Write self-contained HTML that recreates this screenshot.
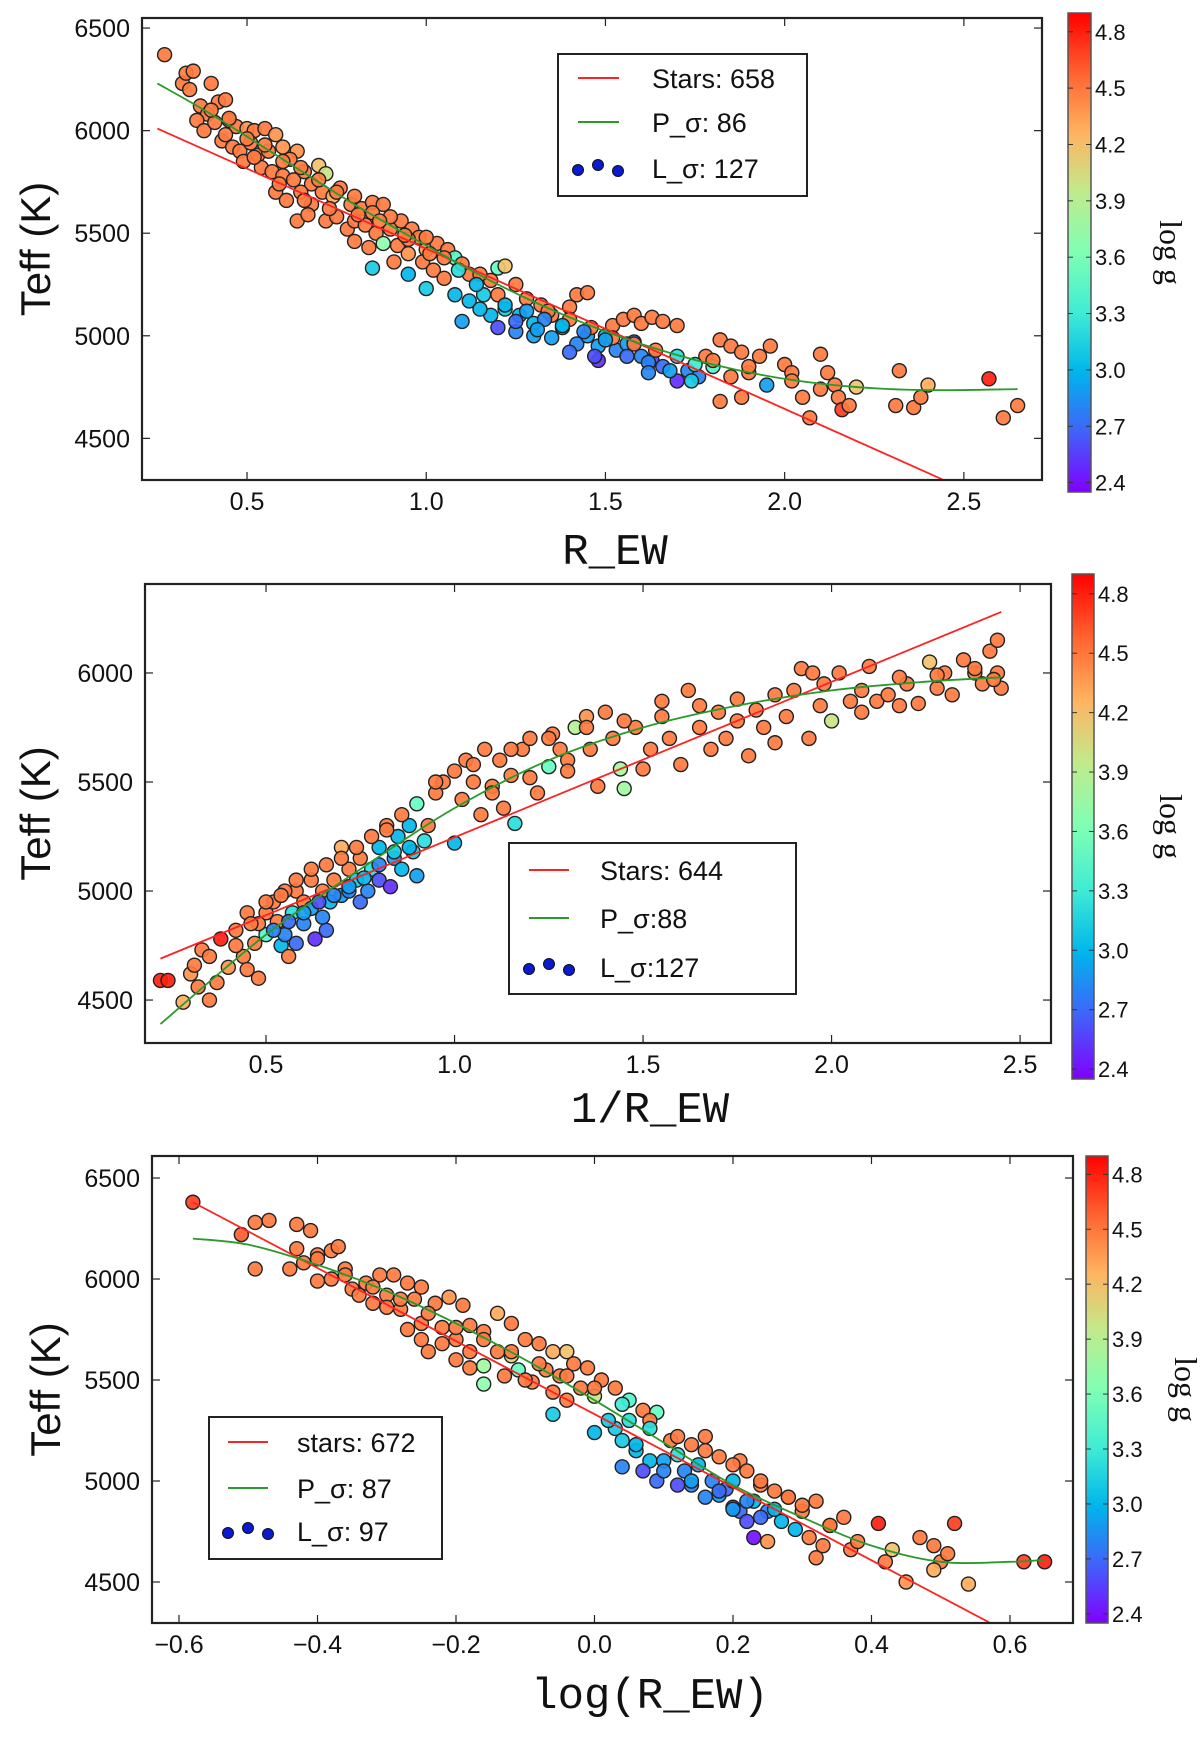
<!DOCTYPE html>
<html><head><meta charset="utf-8"><style>
html,body{margin:0;padding:0;background:#fff;}
svg{display:block;}
text{font-family:"Liberation Sans","DejaVu Sans",sans-serif;fill:#111;}
</style></head><body>
<svg id="fig" width="1200" height="1740" viewBox="0 0 1200 1740" xmlns="http://www.w3.org/2000/svg">
<defs>
<linearGradient id="cbgrad" x1="0" y1="1" x2="0" y2="0">
<stop offset="0" stop-color="#8000ff"/><stop offset="0.125" stop-color="#4062fa"/><stop offset="0.25" stop-color="#00b5eb"/><stop offset="0.375" stop-color="#40ecd4"/><stop offset="0.5" stop-color="#80ffb4"/><stop offset="0.625" stop-color="#c0eb8d"/><stop offset="0.75" stop-color="#ffb360"/><stop offset="0.875" stop-color="#ff6230"/><stop offset="1" stop-color="#ff0000"/>
</linearGradient>
</defs>
</svg>
<script>
// ---------- Panel 1 data (R_EW) ----------
const p1X=[0.27,0.32,0.33,0.35,0.34,0.40,0.37,0.39,0.42,0.44,0.36,0.38,0.41,0.45,0.47,0.50,0.52,0.55,0.58,0.43,0.46,0.48,0.51,0.53,0.56,0.60,0.64,0.62,0.49,0.54,0.57,0.60,0.63,0.66,0.70,0.72,0.68,0.58,0.61,0.65,0.68,0.71,0.74,0.76,0.79,0.82,0.85,0.88,0.64,0.67,0.72,0.75,0.78,0.80,0.83,0.86,0.90,0.93,0.96,0.98,0.80,0.84,0.88,0.92,0.95,1.00,1.03,1.06,0.91,0.99,0.85,0.95,1.08,1.02,1.05,1.12,1.20,1.22,1.18,1.25,1.00,1.08,1.12,1.16,1.10,1.18,1.22,1.26,1.20,1.25,1.30,1.32,1.35,1.40,1.42,1.45,1.30,1.35,1.38,1.42,1.45,1.48,1.50,1.52,1.55,1.58,1.60,1.63,1.66,1.70,1.53,1.56,1.60,1.63,1.66,1.70,1.73,1.76,1.70,1.78,1.82,1.85,1.88,1.80,1.85,1.90,1.93,1.96,1.82,1.88,1.95,2.00,2.02,2.05,2.07,2.10,2.12,2.14,2.15,2.16,2.18,2.20,2.31,2.32,2.36,2.38,2.40,2.57,2.61,2.65,1.58,1.48,1.25,1.40,
 0.40,0.45,0.50,0.55,0.60,0.65,0.70,0.75,0.80,0.85,0.90,0.95,1.00,1.05,1.10,1.15,
 0.44,0.52,0.59,0.66,0.73,0.81,0.87,0.94,1.01,1.09,1.14,1.20,1.28,1.34,1.40,1.46,1.52,1.58,1.64,
 1.22,1.28,1.33,1.38,1.44,1.50,1.56,1.62,1.68,1.74,1.15,1.31,1.47,1.62,1.75,1.80,1.90,2.02,2.10];
const p1T=[6370,6230,6280,6290,6200,6230,6120,6080,6140,6150,6050,6000,6040,6050,6020,6010,6000,6010,5980,5950,5920,5900,5940,5880,5900,5920,5900,5860,5850,5820,5800,5780,5760,5800,5830,5790,5740,5700,5660,5700,5640,5700,5680,5720,5640,5620,5650,5640,5560,5590,5560,5580,5520,5560,5540,5500,5520,5560,5520,5480,5460,5430,5450,5440,5400,5420,5450,5420,5360,5360,5330,5300,5380,5320,5280,5300,5330,5340,5270,5250,5230,5200,5170,5200,5070,5100,5130,5100,5040,5020,5060,5150,5100,5140,5200,5210,5000,4990,5040,4960,5000,4950,5000,5050,5080,5100,5060,5090,5070,5050,4930,4960,4900,4880,4850,4900,4830,4800,4780,4900,4980,4950,4920,4850,4800,4820,4900,4950,4680,4700,4760,4860,4820,4700,4600,4910,4820,4760,4700,4640,4660,4750,4660,4830,4650,4700,4760,4790,4600,4660,4970,4880,5070,4920,
 6100,6060,5960,5930,5850,5820,5760,5700,5680,5600,5580,5470,5480,5380,5350,5300,
 5980,5870,5740,5660,5620,5590,5560,5490,5400,5320,5250,5200,5180,5120,5080,5040,4990,4960,4930,
 5150,5120,5080,5050,5020,4980,4900,4870,4830,4780,5130,5030,4900,4820,4860,4880,4850,4780,4740];
const p1G=[4.5,4.5,4.5,4.5,4.5,4.5,4.5,4.5,4.5,4.5,4.5,4.5,4.5,4.5,4.5,4.4,4.5,4.5,4.4,4.5,4.5,4.5,4.5,4.5,4.5,4.4,4.4,4.5,4.5,4.5,4.5,4.5,4.5,4.5,4.2,4.0,4.5,4.5,4.5,4.5,4.5,4.5,4.3,4.5,4.5,4.5,4.5,4.5,4.5,4.5,4.5,4.5,4.5,4.5,4.5,4.5,4.5,4.5,4.5,4.5,4.5,4.5,3.7,4.5,4.4,4.4,4.5,4.5,4.5,4.5,3.1,3.0,3.4,4.5,4.5,4.5,3.5,4.2,4.5,4.5,3.1,3.0,3.0,3.1,2.9,3.0,3.1,3.0,2.6,2.8,3.0,4.5,4.5,4.5,4.5,4.5,2.9,2.9,3.0,2.8,2.9,2.9,3.0,4.5,4.5,4.5,4.5,4.5,4.5,4.5,2.8,2.9,2.8,2.6,2.7,3.2,2.8,2.8,2.5,4.5,4.5,4.5,4.5,3.4,4.5,4.5,4.5,4.5,4.5,4.5,2.9,4.5,4.5,4.5,4.5,4.5,4.5,4.5,4.5,4.7,4.5,4.2,4.5,4.5,4.5,4.5,4.3,4.8,4.5,4.5,2.8,2.5,2.7,2.7,
 4.5,4.5,4.5,4.5,4.5,4.5,4.5,4.5,4.5,4.5,4.5,4.5,4.5,4.5,4.5,4.5,
 4.5,4.5,4.5,4.5,4.5,4.5,4.5,4.5,4.5,3.2,3.0,4.5,4.5,4.5,4.5,4.5,4.5,4.5,4.5,
 3.0,2.9,2.8,3.0,2.8,2.9,2.7,2.8,2.9,3.1,3.0,2.9,2.6,2.8,3.3,4.5,4.5,4.5,4.5];
const p1LinX=[0.25,2.44];
const p1LinY=[6010,4300];
const p1PolX=[0.25,0.4,0.6,0.8,1.0,1.2,1.4,1.6,1.8,2.0,2.2,2.4,2.65];
const p1PolY=[6230,6080,5860,5640,5440,5250,5090,4960,4860,4790,4750,4735,4740];
const p1XTicks=[0.5,1.0,1.5,2.0,2.5];
const p1XTickLabels=["0.5","1.0","1.5","2.0","2.5"];
const p1YTicks=[4500,5000,5500,6000,6500];
const p1YTickLabels=["4500","5000","5500","6000","6500"];
const p1Legend=["Stars: 658","P_σ: 86","L_σ: 127"];

// ---------- Panel 2 data (1/R_EW) ----------
const p2X=[0.22,0.24,0.28,0.30,0.31,0.32,0.33,0.35,0.35,0.37,0.38,0.40,0.42,0.44,0.45,0.47,0.48,0.50,0.50,0.52,0.53,0.54,0.55,0.56,0.57,0.58,0.58,0.60,0.60,0.62,0.62,0.63,0.65,0.65,0.66,0.67,0.68,0.70,0.70,0.72,0.72,0.74,0.75,0.75,0.77,0.78,0.80,0.80,0.82,0.83,0.84,0.85,0.86,0.88,0.89,0.90,0.92,0.90,0.93,0.95,0.97,1.00,1.00,1.02,1.03,1.05,1.07,1.08,1.10,1.12,1.13,1.15,1.16,1.18,1.20,1.22,1.25,1.26,1.28,1.30,1.32,1.35,1.36,1.38,1.40,1.42,1.44,1.45,1.48,1.50,1.52,1.55,1.57,1.60,1.62,1.65,1.68,1.70,1.72,1.75,1.78,1.80,1.82,1.85,1.88,1.90,1.92,1.94,1.95,1.97,2.00,2.02,2.05,2.08,2.10,2.12,2.15,2.18,2.20,2.23,2.26,2.28,2.30,2.32,2.35,2.38,2.40,2.42,2.44,2.44,2.45,2.43,0.45,0.55,0.48,
 0.42,0.46,0.50,0.54,0.58,0.62,0.66,0.70,0.74,0.78,0.82,0.86,
 0.52,0.56,0.60,0.64,0.68,0.72,0.76,0.80,0.84,0.88,
 0.95,1.05,1.15,1.25,1.35,1.45,1.55,1.65,1.75,1.85,1.98,2.08,2.18,2.28,2.38,1.10,1.20,1.30];
const p2T=[4590,4590,4490,4620,4660,4560,4730,4700,4500,4580,4780,4650,4820,4700,4640,4760,4600,4900,4800,4950,4860,4750,4800,4700,4900,5000,4760,4950,4850,4920,5050,4780,5000,4880,4820,4950,5050,4980,5200,5000,5100,5050,4950,5150,5000,5100,5050,5200,5300,5020,5150,5250,5100,5300,5180,5070,5230,5400,5300,5450,5500,5550,5220,5420,5600,5500,5350,5650,5480,5600,5380,5530,5310,5650,5700,5450,5570,5720,5650,5600,5750,5800,5650,5480,5820,5700,5560,5470,5750,5560,5650,5870,5700,5580,5920,5750,5650,5820,5700,5780,5620,5830,5750,5680,5800,5920,6020,5700,6000,5850,5780,6000,5870,5820,6030,5870,5900,5850,5950,5860,6050,5930,6000,5900,6060,6000,5950,6100,6150,6000,5930,5970,4900,5000,4850,
 4750,4850,4950,4980,5050,5100,5120,5150,5200,5250,5280,5350,
 4820,4860,4900,4950,4980,5020,5060,5120,5180,5200,
 5500,5580,5650,5700,5750,5780,5800,5850,5880,5900,5950,5920,5980,5990,6020,5450,5520,5550];
const p2G=[4.8,4.8,4.3,4.4,4.5,4.5,4.5,4.5,4.5,4.5,4.8,4.4,4.5,4.5,4.5,4.5,4.5,4.5,3.4,4.5,4.5,3.0,2.8,4.5,3.2,4.5,2.7,4.5,2.8,2.9,4.5,2.5,4.5,2.8,2.7,3.0,4.5,2.9,4.3,2.8,4.5,3.1,2.7,4.5,2.8,3.2,2.6,3.0,4.5,2.5,2.9,3.0,3.0,3.0,3.1,2.9,3.2,3.5,4.5,4.5,4.5,4.5,3.0,4.5,4.5,4.5,4.5,4.5,4.5,4.5,4.5,4.5,3.2,4.5,4.5,4.5,3.5,4.5,4.5,4.5,3.9,4.4,4.5,4.5,4.5,4.5,3.8,3.8,4.5,4.5,4.5,4.5,4.5,4.5,4.5,4.5,4.5,4.5,4.5,4.5,4.5,4.5,4.5,4.5,4.5,4.5,4.5,4.5,4.5,4.5,4.0,4.5,4.5,4.5,4.5,4.5,4.5,4.5,4.5,4.5,4.2,4.5,4.5,4.5,4.5,4.5,4.5,4.5,4.5,4.5,4.5,4.5,4.5,4.5,4.5,
 4.5,4.5,4.5,4.5,4.5,4.5,4.5,4.5,4.5,4.5,4.5,4.5,
 2.8,2.7,2.9,2.6,2.8,2.9,3.0,2.8,3.1,3.0,
 4.5,4.5,4.5,4.5,4.5,4.5,4.5,4.5,4.5,4.5,4.5,4.5,4.5,4.5,4.5,4.5,4.5,4.5];
const p2LinX=[0.22,2.45];
const p2LinY=[4690,6280];
const p2PolX=[0.22,0.5,0.75,1.0,1.25,1.5,1.75,2.0,2.25,2.45];
const p2PolY=[4390,4800,5100,5380,5600,5750,5850,5920,5960,5980];
const p2XTicks=[0.5,1.0,1.5,2.0,2.5];
const p2XTickLabels=["0.5","1.0","1.5","2.0","2.5"];
const p2YTicks=[4500,5000,5500,6000];
const p2YTickLabels=["4500","5000","5500","6000"];
const p2Legend=["Stars: 644","P_σ:88","L_σ:127"];

// ---------- Panel 3 data (log R_EW) ----------
const p3X=[-0.58,-0.51,-0.49,-0.47,-0.49,-0.43,-0.41,-0.43,-0.42,-0.44,-0.40,-0.38,-0.37,-0.40,-0.38,-0.36,-0.35,-0.33,-0.31,-0.29,-0.30,-0.27,-0.25,-0.32,-0.28,-0.26,-0.25,-0.23,-0.21,-0.19,-0.27,-0.25,-0.24,-0.22,-0.20,-0.18,-0.16,-0.14,-0.12,-0.20,-0.18,-0.16,-0.16,-0.14,-0.12,-0.10,-0.08,-0.06,-0.04,-0.13,-0.11,-0.09,-0.07,-0.05,-0.03,-0.01,-0.06,-0.04,-0.02,0.00,0.01,0.03,0.05,0.00,0.03,0.05,0.07,0.09,0.04,0.06,0.08,0.04,0.07,0.09,0.10,0.11,0.12,0.13,0.14,0.15,0.16,0.17,0.18,0.19,0.20,0.21,0.22,0.21,0.22,0.23,0.24,0.25,0.25,0.26,0.27,0.28,0.29,0.30,0.31,0.32,0.32,0.33,0.34,0.36,0.37,0.38,0.41,0.42,0.43,0.45,0.47,0.49,0.50,0.51,0.52,0.54,0.49,0.62,0.65,0.20,0.23,0.14,0.18,
 -0.40,-0.36,-0.32,-0.28,-0.24,-0.20,-0.16,-0.12,-0.08,-0.04,0.00,0.04,0.08,0.12,0.16,0.20,0.24,0.28,
 -0.34,-0.30,-0.22,-0.18,-0.10,-0.06,0.02,0.06,0.10,0.14,0.18,0.22,0.26,
 0.12,0.16,0.20,0.24,0.08,0.30,0.34];
const p3T=[6380,6220,6280,6290,6050,6270,6240,6150,6080,6050,6120,6140,6160,5990,6000,6050,5950,5980,6020,6020,5920,5980,5960,5880,5850,5900,5780,5880,5910,5870,5750,5700,5640,5760,5700,5770,5740,5830,5780,5600,5560,5570,5480,5640,5620,5700,5680,5640,5640,5520,5550,5490,5550,5520,5580,5560,5330,5400,5460,5420,5500,5460,5400,5240,5260,5300,5350,5340,5200,5150,5100,5070,5050,5000,5100,5200,5130,5050,4980,5080,5220,5000,4930,4960,5000,5100,5050,4850,4800,4900,4980,4850,4700,4950,4800,4920,4760,4850,4720,4900,4620,4680,4780,4820,4660,4700,4790,4600,4660,4500,4720,4680,4600,4640,4790,4490,4560,4600,4600,4870,4720,5180,5120,
 6100,6020,5960,5900,5830,5760,5700,5640,5580,5520,5460,5380,5300,5220,5150,5080,5000,4920,
 5920,5860,5680,5640,5500,5440,5300,5180,5050,5000,4950,4900,4860,
 4980,4920,4860,4820,5260,4880,4780];
const p3G=[4.7,4.6,4.5,4.5,4.5,4.5,4.5,4.5,4.5,4.5,4.5,4.5,4.5,4.5,4.5,4.5,4.5,4.5,4.5,4.5,4.5,4.5,4.5,4.5,4.5,4.5,4.5,4.5,4.4,4.5,4.5,4.5,4.5,4.5,4.5,4.5,4.5,4.3,4.5,4.5,4.5,3.8,3.7,4.5,4.1,4.5,4.5,4.3,4.2,4.5,3.5,4.5,4.5,4.5,4.5,4.5,3.1,4.5,4.5,4.0,4.5,4.5,3.4,3.0,3.1,3.2,4.5,3.5,3.1,3.0,3.0,2.8,2.6,2.7,2.9,4.5,3.2,2.8,2.8,3.0,4.5,2.8,2.9,2.7,3.0,4.5,4.5,2.7,2.6,3.0,4.5,2.8,4.4,4.5,3.0,4.5,3.0,4.5,4.5,4.5,4.5,4.5,4.5,4.5,4.5,4.5,4.8,4.5,4.2,4.4,4.5,4.5,4.5,4.5,4.7,4.3,4.3,4.7,4.8,2.5,2.4,4.5,4.5,
 4.5,4.5,4.5,4.5,4.5,4.5,4.5,4.5,4.5,4.5,4.5,3.3,4.5,4.5,4.5,4.5,4.5,4.5,
 4.5,4.5,4.5,4.5,4.5,4.5,3.1,3.0,2.8,2.9,2.7,2.8,3.0,
 2.6,2.8,2.9,2.7,3.2,4.5,4.5];
const p3LinX=[-0.58,0.57];
const p3LinY=[6380,4300];
const p3PolX=[-0.58,-0.5,-0.4,-0.3,-0.2,-0.1,0.0,0.1,0.2,0.3,0.4,0.5,0.6,0.65];
const p3PolY=[6200,6170,6070,5940,5780,5600,5400,5190,4980,4820,4680,4600,4600,4610];
const p3XTicks=[-0.6,-0.4,-0.2,0.0,0.2,0.4,0.6];
const p3XTickLabels=["\u22120.6","\u22120.4","\u22120.2","0.0","0.2","0.4","0.6"];
const p3YTicks=[4500,5000,5500,6000,6500];
const p3YTickLabels=["4500","5000","5500","6000","6500"];
const p3Legend=["stars: 672","P_σ: 87","L_σ: 97"];

const cbTicks=[2.4,2.7,3.0,3.3,3.6,3.9,4.2,4.5,4.8];
const cbTickLabels=["2.4","2.7","3.0","3.3","3.6","3.9","4.2","4.5","4.8"];
const CMIN=2.35, CMAX=4.9;

const NS="http://www.w3.org/2000/svg";
const svg=document.getElementById('fig');
function mk(tag,attrs,parent){const e=document.createElementNS(NS,tag);for(const k in attrs)e.setAttribute(k,attrs[k]);(parent||svg).appendChild(e);return e;}
function rainbow(v){let x=(v-CMIN)/(CMAX-CMIN);x=Math.max(0,Math.min(1,x));
 const r=Math.min(1,Math.abs(2*x-0.5)),g=Math.sin(Math.PI*x),b=Math.cos(Math.PI*x/2);
 return `rgb(${Math.round(r*255)},${Math.round(g*255)},${Math.round(b*255)})`;}

function panel(P){
 const g=mk('g',{});
 
 
 const sx=v=>P.x0+(v-P.xmin)/(P.xmax-P.xmin)*(P.x1-P.x0);
 const sy=v=>P.y1-(v-P.ymin)/(P.ymax-P.ymin)*(P.y1-P.y0);
 const clip='clip-'+P.name;
 const cp=mk('clipPath',{id:clip},g);mk('rect',{x:P.x0,y:P.y0,width:P.x1-P.x0,height:P.y1-P.y0},cp);
 const pts=mk('g',{'clip-path':`url(#${clip})`},g);
 
 
 for(let i=0;i<P.X.length;i++){
  const c=mk('circle',{cx:sx(P.X[i]),cy:sy(P.T[i]),r:7,fill:rainbow(P.G[i]),stroke:'#222','stroke-width':1.4,'fill-opacity':0.92},pts);
  
  
 }
 const lin=mk('polyline',{points:P.linX.map((v,i)=>sx(v)+','+sy(P.linY[i])).join(' '),fill:'none',stroke:'#f22','stroke-width':1.8,'clip-path':`url(#${clip})`},g);
 
 
 const pp=P.polX.map((v,i)=>[sx(v),sy(P.polY[i])]);
 let d='M'+pp[0][0]+','+pp[0][1];
 for(let i=0;i<pp.length-1;i++){const p0=pp[Math.max(0,i-1)],p1=pp[i],p2=pp[i+1],p3=pp[Math.min(pp.length-1,i+2)];
  d+=` C${p1[0]+(p2[0]-p0[0])/6},${p1[1]+(p2[1]-p0[1])/6} ${p2[0]-(p3[0]-p1[0])/6},${p2[1]-(p3[1]-p1[1])/6} ${p2[0]},${p2[1]}`;}
 const pl=mk('path',{d:d,fill:'none',stroke:'#2a9a2a','stroke-width':1.8},g);
 
 
 const frame=mk('rect',{x:P.x0,y:P.y0,width:P.x1-P.x0,height:P.y1-P.y0,fill:'none',stroke:'#222','stroke-width':2.2},g);
 
 
 P.xt.forEach((v,i)=>{const x=sx(v);
  mk('line',{x1:x,y1:P.y1,x2:x,y2:P.y1-8,stroke:'#222','stroke-width':1.2},g);
  mk('line',{x1:x,y1:P.y0,x2:x,y2:P.y0+8,stroke:'#222','stroke-width':1.2},g);
  const t=mk('text',{x:x,y:P.y1+30,'text-anchor':'middle','font-size':25},g);t.textContent=P.xtl[i];
  
  });
 P.yt.forEach((v,i)=>{const y=sy(v);
  mk('line',{x1:P.x0,y1:y,x2:P.x0+8,y2:y,stroke:'#222','stroke-width':1.2},g);
  mk('line',{x1:P.x1,y1:y,x2:P.x1-8,y2:y,stroke:'#222','stroke-width':1.2},g);
  const t=mk('text',{x:P.x0-12,y:y+9,'text-anchor':'end','font-size':25},g);t.textContent=P.ytl[i];
  
  });
 const yl=mk('text',{x:0,y:0,transform:`translate(${P.ylx},${(P.y0+P.y1)/2}) rotate(-90)`,'text-anchor':'middle','font-size':42},g);yl.textContent='Teff (K)';
 
 
 const xl=mk('text',{x:P.xlx,y:P.xly,'text-anchor':'middle','font-size':44,style:'font-family:"Liberation Mono","DejaVu Sans Mono",monospace'},g);xl.textContent=P.xlabel;
 
 
 const L=P.leg;
 const lg=mk('g',{},g);
 
 
 mk('rect',{x:L.x,y:L.y,width:L.w,height:L.h,fill:'#fff',stroke:'#222','stroke-width':2},lg);
 const cols=['#f22','#2a9a2a'];
 P.legText.forEach((s,i)=>{const ry=L.rows[i];
  if(i<2){const ln=mk('line',{x1:L.lx0,y1:ry,x2:L.lx1,y2:ry,stroke:cols[i],'stroke-width':2},lg);
   
   }
  else{[[0,2],[20,-3],[40,3]].forEach(o=>{mk('circle',{cx:L.lx0+o[0],cy:ry+o[1],r:5.5,fill:'#0a1ad0',stroke:'#111','stroke-width':1},lg);});}
  const t=mk('text',{x:L.tx,y:ry+10,'font-size':27},lg);t.textContent=s;
  
  });
 const C=P.cb;
 const cg=mk('g',{},g);
 
 
 mk('rect',{x:C.x,y:C.y0,width:C.w,height:C.y1-C.y0,fill:'url(#cbgrad)',stroke:'#555','stroke-width':1.5},cg);
 const cy=v=>C.y1-(v-CMIN)/(CMAX-CMIN)*(C.y1-C.y0);
 cbTicks.forEach((v,i)=>{const y=cy(v);
  mk('line',{x1:C.x,y1:y,x2:C.x+5,y2:y,stroke:'#333','stroke-width':1},cg);
  mk('line',{x1:C.x+C.w,y1:y,x2:C.x+C.w-5,y2:y,stroke:'#333','stroke-width':1},cg);
  const t=mk('text',{x:C.x+C.w+4,y:y+8,'font-size':22},cg);t.textContent=cbTickLabels[i];
  
  });
 const cl=mk('text',{x:0,y:0,transform:`translate(${C.lx},${(C.y0+C.y1)/2}) rotate(90)`,'text-anchor':'middle','font-size':32,style:'font-family:"Liberation Serif","DejaVu Serif",serif'},cg);cl.textContent='log g';
 
 
}

panel({name:'panel-rew',X:p1X,T:p1T,G:p1G,linX:p1LinX,linY:p1LinY,polX:p1PolX,polY:p1PolY,
 x0:142,x1:1042,y0:18,y1:480,xmin:0.207,xmax:2.718,ymin:4297,ymax:6549,
 xt:p1XTicks,xtl:p1XTickLabels,yt:p1YTicks,ytl:p1YTickLabels,ylx:50,xlabel:'R_EW',xlx:615,xly:564,
 legText:p1Legend,leg:{x:558,y:54,w:249,h:142,lx0:578,lx1:619,tx:652,rows:[78,122,168]},
 cb:{x:1068,w:23,y0:13,y1:492,lx:1160}});
panel({name:'panel-inv-rew',X:p2X,T:p2T,G:p2G,linX:p2LinX,linY:p2LinY,polX:p2PolX,polY:p2PolY,
 x0:145,x1:1051,y0:584,y1:1043,xmin:0.179,xmax:2.582,ymin:4303,ymax:6408,
 xt:p2XTicks,xtl:p2XTickLabels,yt:p2YTicks,ytl:p2YTickLabels,ylx:50,xlabel:'1/R_EW',xlx:650,xly:1122,
 legText:p2Legend,leg:{x:509,y:843,w:287,h:151,lx0:529,lx1:569,tx:600,rows:[870,918,967]},
 cb:{x:1072,w:22,y0:574,y1:1079,lx:1160}});
panel({name:'panel-log-rew',X:p3X,T:p3T,G:p3G,linX:p3LinX,linY:p3LinY,polX:p3PolX,polY:p3PolY,
 x0:152,x1:1073,y0:1156,y1:1623,xmin:-0.639,xmax:0.691,ymin:4297,ymax:6609,
 xt:p3XTicks,xtl:p3XTickLabels,yt:p3YTicks,ytl:p3YTickLabels,ylx:60,xlabel:'log(R_EW)',xlx:650,xly:1708,
 legText:p3Legend,leg:{x:209,y:1417,w:233,h:142,lx0:228,lx1:268,tx:297,rows:[1442,1488,1531]},
 cb:{x:1086,w:22,y0:1156,y1:1623,lx:1175}});
</script>
</body></html>
